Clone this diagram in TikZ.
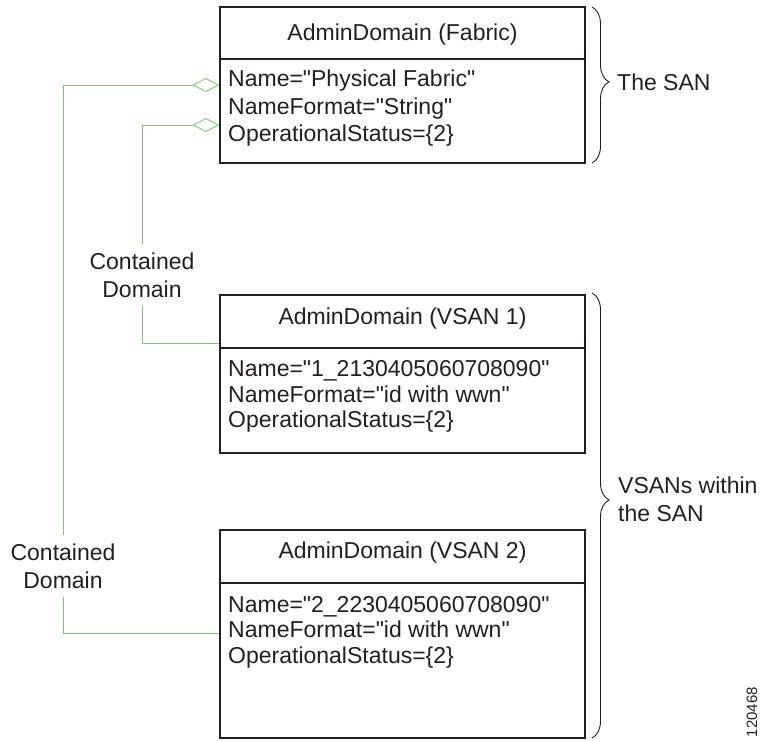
\documentclass[tikz,border=0pt]{standalone}
\usepackage{fontspec}
\setmainfont{Liberation Sans}[Ligatures=TeXOff]
\usetikzlibrary{arrows.meta,decorations.pathreplacing}
\definecolor{lnkgreen}{RGB}{125,200,115}
\definecolor{ink}{RGB}{35,31,32}
\begin{document}
\begin{tikzpicture}[x=1pt,y=1pt,
  box/.style={draw=ink, line width=1.3pt, rectangle, inner sep=0pt},
  divider/.style={draw=ink, line width=1.3pt},
  txt/.style={font=\fontsize{23}{28}\selectfont, inner sep=0pt, text=ink},
  attr/.style={txt, anchor=base west},
  head/.style={txt, anchor=base},
  lbl/.style={txt, align=center, inner xsep=0pt, inner ysep=8pt},
  conn/.style={draw=lnkgreen, line width=0.9pt},
  agg/.style={conn, {Diamond[open, length=27pt, width=14pt]}-},
  brc/.style={draw=ink, line width=0.9pt, decorate}
]
\useasboundingbox (0,0) rectangle (764,740);
% boxes
\node[box, minimum width=365pt, minimum height=156pt] (fab) at (402.5,655) {};
\node[box, minimum width=365pt, minimum height=158pt] (v1) at (402.5,366) {};
\node[box, minimum width=365pt, minimum height=208pt] (v2) at (402.5,106) {};
\draw[divider] (fab.west |- 0,681) -- (fab.east |- 0,681);
\draw[divider, line width=1.8pt] (v1.west |- 0,392) -- (v1.east |- 0,392);
\draw[divider, line width=1.8pt] (v2.west |- 0,157) -- (v2.east |- 0,157);
% headers
\node[head] (fabh) at (402.5,699) {AdminDomain (Fabric)};
\node[head] (v1h) at (402.5,415) {AdminDomain (VSAN 1)};
\node[head] (v2h) at (402.5,181) {AdminDomain (VSAN 2)};
% attributes
\node[attr] (fa1) at (228,653) {Name="Physical Fabric"};
\node[attr] (fa2) at (228,625) {NameFormat="String"};
\node[attr] (fa3) at (228,598) {OperationalStatus=\{2\}};
\node[attr] (va1) at (228,363) {Name="1\_2130405060708090"};
\node[attr] (va2) at (228,337) {NameFormat="id with wwn"};
\node[attr] (va3) at (228,312) {OperationalStatus=\{2\}};
\node[attr] (wa1) at (228,127) {Name="2\_2230405060708090"};
\node[attr] (wa2) at (228,102) {NameFormat="id with wwn"};
\node[attr] (wa3) at (228,77) {OperationalStatus=\{2\}};
% labels
\node[lbl] (lblB) at (142,465) {Contained\\Domain};
\node[lbl] (lblA) at (63,174) {Contained\\Domain};
% connectors
\coordinate (dA) at (0,655);
\coordinate (dB) at (0,615);
\coordinate (jA) at (0,107);
\coordinate (jB) at (0,397);
\draw[agg] (fab.west |- dA) -| (lblA.north);
\draw[conn] (lblA.south) |- (v2.west |- jA);
\draw[agg] (fab.west |- dB) -| (lblB.north);
\draw[conn] (lblB.south) |- (v1.west |- jB);
% braces
\coordinate (b1t) at (592,733);
\coordinate (b1b) at (592,577);
\coordinate (b2t) at (592,447);
\coordinate (b2b) at (592,2);
\draw[brc, decoration={brace, amplitude=17pt, aspect=0.48}] (b1t) -- (b1b);
\draw[brc, decoration={brace, amplitude=17pt, aspect=0.465}] (b2t) -- (b2b);
\node[txt, anchor=west] (san) at (617,658) {The SAN};
\node[txt, anchor=west, align=left] (vsans) at (618,241) {VSANs within\\the SAN};
\node[font=\fontsize{15}{15}\selectfont, text=ink, inner sep=0pt, rotate=90] (fig) at (752,28) {120468};
\end{tikzpicture}
\end{document}
